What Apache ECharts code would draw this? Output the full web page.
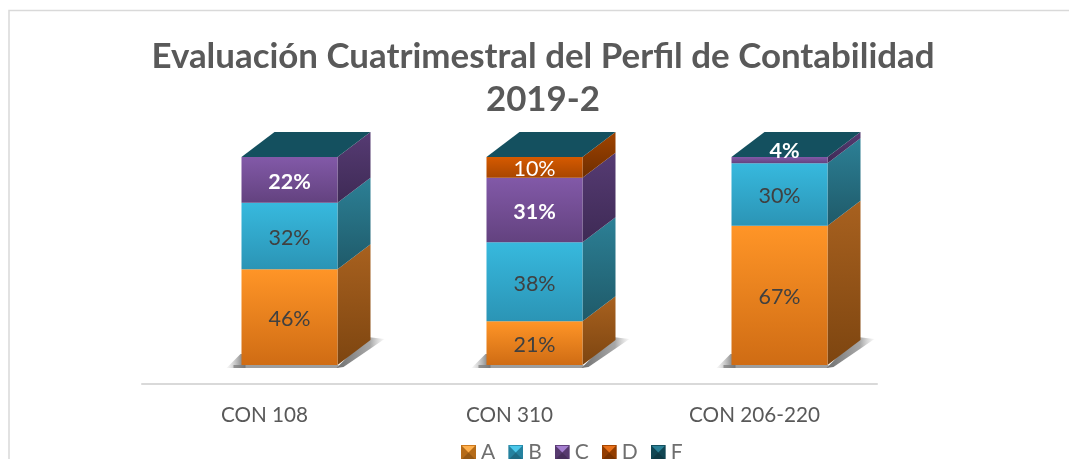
<!DOCTYPE html>
<html><head><meta charset="utf-8">
<style>html,body{margin:0;padding:0;background:#fff}#c{width:1069px;height:459px}</style>
<script src="https://cdn.jsdelivr.net/npm/echarts@6/dist/echarts.min.js"></script>
</head><body><div id="c"></div>
<script>
const categories = ['CON 108', 'CON 310', 'CON 206-220'];
const seriesNames = ['A', 'B', 'C', 'D', 'F'];
const valuesA = [46, 21, 67];
const valuesB = [32, 38, 30];
const valuesC = [22, 31, 4];
const valuesD = [0, 10, 0];
const valuesF = [0, 0, 0];
const allValues = [valuesA, valuesB, valuesC, valuesD, valuesF];
const frontColors = [
  ['#ff9527', '#cf6c14'], ['#37b9de', '#2b94b5'], ['#8259a8', '#63427f'],
  ['#d65a00', '#a84600'], ['#14505f', '#14505f']
];
const sideColors = [
  ['#a8611f', '#7d4510'], ['#2c8096', '#1f5a69'], ['#563b73', '#3e2a55'],
  ['#a04300', '#6e2e00'], ['#14505f', '#14505f']
];
const iconColors = [
  ['#ffb04d', '#cf7a1c'], ['#4cc8ea', '#2b94b5'], ['#a57fd0', '#63427f'],
  ['#e8701a', '#a84600'], ['#2a8096', '#14505f']
];
const labelColors = ['#404040', '#404040', '#ffffff', '#ffffff', '#ffffff'];
const labelBold = [false, false, true, false, false];
const DX = 33, DY = -25, BAR_W = 96, SHIFT = 25;

function grad(c) {
  return new echarts.graphic.LinearGradient(0, 0, 0, 1, [
    { offset: 0, color: c[0] }, { offset: 1, color: c[1] }
  ]);
}
function bevelIcon(c) {
  const svg = `<svg xmlns="http://www.w3.org/2000/svg" width="15" height="15">` +
    `<rect width="15" height="15" fill="${c[1]}"/>` +
    `<polygon points="1,1 14,1 7.5,7.5" fill="${c[0]}"/>` +
    `<polygon points="0,0 0,15 7.5,7.5" fill="#000" opacity="0.12"/>` +
    `<polygon points="15,0 15,15 7.5,7.5" fill="#000" opacity="0.12"/>` +
    `<polygon points="0,15 15,15 7.5,7.5" fill="#000" opacity="0.28"/></svg>`;
  return 'image://data:image/svg+xml;charset=utf-8,' + encodeURIComponent(svg);
}
function stackBase(s, i) {
  let b = 0;
  for (let k = 0; k < s; k++) b += allValues[k][i];
  return [Math.min(100, b), Math.min(100, b + allValues[s][i])];
}
function makeRender(s) {
  return function (params, api) {
    const i = api.value(0);
    const [lo, hi] = stackBase(s, i);
    const p0 = api.coord([i, lo]), p1 = api.coord([i, hi]);
    const x0 = p0[0] + SHIFT - BAR_W / 2, x1 = x0 + BAR_W;
    const y0 = p0[1], y1 = p1[1];
    const children = [];
    if (s === 0) {
      children.push({ type: 'polygon', silent: true, shape: { points: [
        [x0 - 15, y0 + 3], [x0 - 1, y0 - 11], [x0 + 4, y0 - 11], [x0 + 4, y0 + 3]] },
        style: { fill: new echarts.graphic.LinearGradient(1, 0, 0, 0, [
          { offset: 0, color: 'rgba(85,85,85,.9)' }, { offset: 1, color: 'rgba(170,170,170,.08)' }]) } });
      children.push({ type: 'polygon', silent: true, shape: { points: [
        [x1 - 1, y0 + 3], [x1 + 6, y0 + 2], [x1 + DX + 14, y0 + DY - 1], [x1 + DX - 3, y0 + DY - 3]] },
        style: { fill: new echarts.graphic.LinearGradient(0, 0, 1, 0, [
          { offset: 0, color: 'rgba(85,85,85,.85)' }, { offset: 0.7, color: 'rgba(110,110,110,.6)' },
          { offset: 1, color: 'rgba(170,170,170,.08)' }]) } });
      children.push({ type: 'rect', silent: true,
        shape: { x: x0 - 8, y: y0, width: x1 - x0 + 9, height: 3 },
        style: { fill: 'rgba(125,125,125,.75)' } });
    }
    if (s === 4) {
      children.push({ type: 'polygon', shape: { points: [
        [x0, y1], [x0 + DX, y1 + DY], [x1 + DX, y1 + DY], [x1, y1]] },
        style: { fill: frontColors[4][0] } });
    } else if (allValues[s][i] > 0) {
      children.push({ type: 'polygon', shape: { points: [
        [x1, y0], [x1 + DX, y0 + DY], [x1 + DX, y1 + DY], [x1, y1]] },
        style: { fill: grad(sideColors[s]) } });
      children.push({ type: 'rect', shape: { x: x0, y: y1, width: BAR_W, height: y0 - y1 },
        style: { fill: grad(frontColors[s]) } });
    }
    return { type: 'group', children };
  };
}
function makeLabelRender(s) {
  return function (params, api) {
    const i = api.value(0);
    if (!(allValues[s][i] > 0)) return { type: 'group', children: [] };
    const [lo, hi] = stackBase(s, i);
    const p0 = api.coord([i, lo]), p1 = api.coord([i, hi]);
    const small = allValues[s][i] < 5;
    return { type: 'text', z2: 100, style: {
      text: allValues[s][i] + '%',
      x: p0[0] + SHIFT + (small ? 5 : 0),
      y: (p0[1] + p1[1]) / 2 + (small ? -9 : 2),
      align: 'center', verticalAlign: 'middle',
      fontFamily: 'Lato', fontSize: 21.5, fontWeight: labelBold[s] ? 'bold' : 'normal',
      fill: labelColors[s] } };
  };
}

const chart = echarts.init(document.getElementById('c'), null, { renderer: 'canvas' });
chart.setOption({
  animation: false,
  backgroundColor: '#ffffff',
  title: {
    text: 'Evaluación Cuatrimestral del Perfil de Contabilidad\n2019-2',
    left: 538, top: 30, textAlign: 'center',
    textStyle: { fontFamily: 'Lato', fontSize: 34.9, fontWeight: 'bold', color: '#595959', lineHeight: 43 }
  },
  legend: {
    top: 442, left: 461, padding: 0, itemWidth: 15, itemHeight: 15, itemGap: 13,
    textStyle: { fontFamily: 'Lato', fontSize: 21, color: '#6f6f6f' },
    data: seriesNames.map((n, s) => ({ name: n, icon: bevelIcon(iconColors[s]) }))
  },
  grid: { left: 142, right: 192, top: 157, bottom: 75 },
  xAxis: {
    type: 'category', data: categories,
    axisLine: { onZero: false, lineStyle: { color: '#d9d9d9', width: 2 } },
    axisTick: { show: false },
    axisLabel: { fontFamily: 'Lato', fontSize: 20.7, color: '#595959', margin: 21 }
  },
  yAxis: { type: 'value', min: -9.13, max: 100, show: false, splitLine: { show: false } },
  graphic: [{ type: 'polyline', silent: true, z: -1,
    shape: { points: [[9, 459], [9, 10.5], [1069, 10.5]] },
    style: { stroke: '#d9d9d9', lineWidth: 1.5, fill: null } }],
  series: seriesNames.map((n, s) => ({
    name: n, type: 'custom', clip: false, z: 2,
    itemStyle: { color: frontColors[s][0] },
    encode: { x: 0, y: 1 },
    renderItem: makeRender(s),
    data: categories.map((c, i) => [i, allValues[s][i]])
  })).concat(seriesNames.map((n, s) => ({
    name: n, type: 'custom', clip: false, z: 5, silent: true,
    itemStyle: { color: frontColors[s][0] },
    encode: { x: 0, y: 1 },
    renderItem: makeLabelRender(s),
    data: categories.map((c, i) => [i, allValues[s][i]])
  })))
});
</script></body></html>
